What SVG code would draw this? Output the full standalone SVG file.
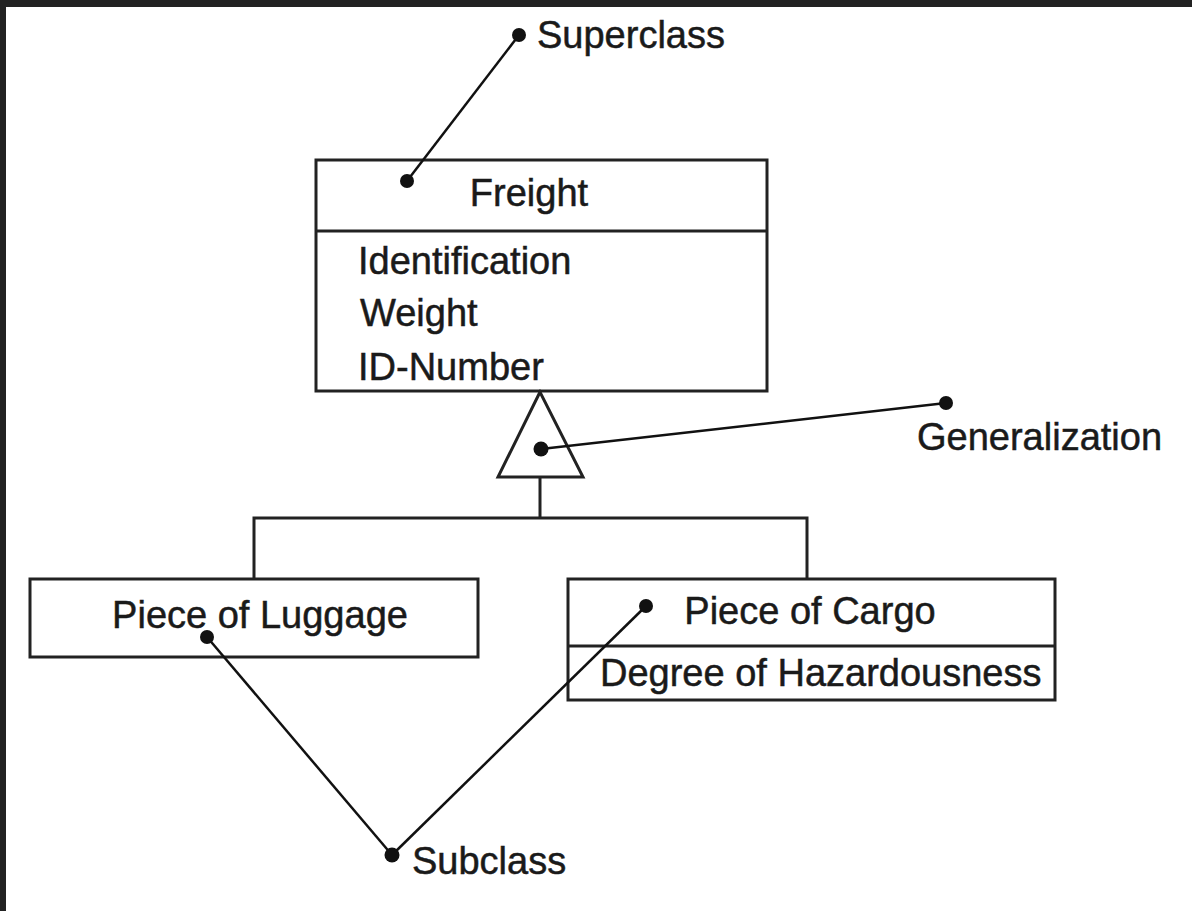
<svg xmlns="http://www.w3.org/2000/svg" width="1192" height="911" viewBox="0 0 1192 911">
<style>
.box{fill:#fff;stroke:#222;stroke-width:3}
.ln{fill:none;stroke:#222;stroke-width:3}
.cn{fill:none;stroke:#111;stroke-width:2.5}
.dot{fill:#111}
text{font-family:"Liberation Sans",Arial,sans-serif;font-size:38px;fill:#1a1a1a;stroke:#1a1a1a;stroke-width:0.5}
</style>
<rect x="0" y="0" width="1192" height="911" fill="#fff"/>
<rect x="0" y="0" width="1192" height="7" fill="#222"/>
<rect x="0" y="0" width="6" height="911" fill="#222"/>
<g id="tree">
<polyline class="ln" points="540,477 540,518"/>
<polyline class="ln" points="254,579 254,518 807,518 807,579"/>
</g>
<g id="freight">
<rect class="box" x="316" y="160" width="451" height="231"/>
<line class="ln" x1="316" y1="231" x2="767" y2="231"/>
<text x="529" y="206" text-anchor="middle">Freight</text>
<text x="358" y="274">Identification</text>
<text x="360" y="326">Weight</text>
<text x="358" y="380">ID-Number</text>
</g>
<g id="generalization-triangle">
<polygon points="540,392 498,477 583,477" fill="#fff" stroke="#222" stroke-width="3" stroke-linejoin="miter"/>
</g>
<g id="luggage">
<rect class="box" x="30" y="579" width="448" height="78"/>
<text x="260" y="628" text-anchor="middle">Piece of Luggage</text>
</g>
<g id="cargo">
<rect class="box" x="568" y="579" width="487" height="121"/>
<line class="ln" x1="568" y1="646" x2="1055" y2="646"/>
<text x="810" y="624" text-anchor="middle">Piece of Cargo</text>
<text x="600" y="686">Degree of Hazardousness</text>
</g>
<g id="connectors">
<line class="cn" x1="519" y1="35" x2="407" y2="181"/>
<line class="cn" x1="541" y1="449" x2="946" y2="403"/>
<line class="cn" x1="207" y1="637" x2="392" y2="855"/>
<line class="cn" x1="646" y1="606" x2="392" y2="855"/>
<circle class="dot" cx="519" cy="35" r="7"/>
<circle class="dot" cx="407" cy="181" r="7"/>
<circle class="dot" cx="541" cy="449" r="7.5"/>
<circle class="dot" cx="946" cy="403" r="7"/>
<circle class="dot" cx="207" cy="637" r="7"/>
<circle class="dot" cx="646" cy="606" r="7"/>
<circle class="dot" cx="392" cy="855" r="7.5"/>
</g>
<g id="labels">
<text x="537" y="48">Superclass</text>
<text x="917" y="450">Generalization</text>
<text x="412" y="874">Subclass</text>
</g>
</svg>
